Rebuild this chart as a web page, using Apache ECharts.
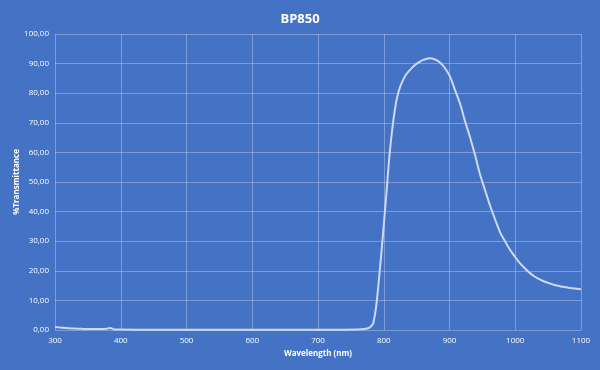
<!DOCTYPE html>
<html><head><meta charset="utf-8">
<script src="https://cdn.jsdelivr.net/npm/echarts@6/dist/echarts.min.js"></script>
<style>html,body{margin:0;padding:0;background:#4472C4;}#c{width:600px;height:370px;}</style>
</head><body><div id="c"></div>
<script>
var wavelengths = [300,310,320,330,340,350,360,370,378,384,390,400,450,500,550,600,650,700,740,760,770,776,780,784,789,794,799,804,809,814,819,823,827,833,840,848,855,862,870,878,886,893,901,908,916,923,931,939,946,954,962,970,977,985,992,1000,1007,1015,1022,1030,1038,1045,1053,1060,1068,1075,1083,1090,1100];
var transmittance = [1.0,0.8,0.6,0.5,0.4,0.3,0.3,0.3,0.4,0.7,0.2,0.15,0.1,0.1,0.1,0.1,0.1,0.1,0.1,0.15,0.3,0.6,1.1,2.3,9,20.3,32.7,46,59.7,69.8,77.2,80.8,83.3,86,87.9,89.6,90.7,91.4,91.8,91.4,90.3,88.5,85.5,81.3,76.5,71,65.3,59,52.9,47.3,41.8,37,33.0,29.8,27.1,24.6,22.6,20.8,19.3,18.0,17.0,16.3,15.7,15.2,14.8,14.5,14.2,14,13.8];
var yTicks = [0,10,20,30,40,50,60,70,80,90,100];
var points = wavelengths.map(function(w,i){return [w, transmittance[i]];});
var chart = echarts.init(document.getElementById('c'));
var ff = '"Open Sans", "Liberation Sans", sans-serif';
chart.setOption({
  backgroundColor: '#4472C4',
  animation: false,
  title: {text: 'BP850', left: 'center', top: 8, textStyle: {color: '#ffffff', fontSize: 13, fontWeight: 'bold', fontFamily: ff}},
  grid: {left: 55, right: 19, top: 34, bottom: 40, outerBoundsMode: 'none', containLabel: false},
  xAxis: {type: 'value', min: 300, max: 1100, interval: 100,
    name: 'Wavelength (nm)', nameLocation: 'middle', nameGap: 17,
    nameTextStyle: {color: '#ffffff', fontSize: 8, fontWeight: 'bold', fontFamily: ff},
    axisLine: {show: false}, axisTick: {show: false},
    axisLabel: {color: '#ffffff', fontSize: 8, fontFamily: ff, margin: 7,
      formatter: function(v){return String(v);}},
    splitLine: {show: true, lineStyle: {color: 'rgba(255,255,255,0.3)', width: 1}}},
  yAxis: {type: 'value', min: 0, max: 100, interval: 10,
    name: '%Transmittance', nameLocation: 'middle', nameGap: 34, nameMoveOverlap: false,
    nameTextStyle: {color: '#ffffff', fontSize: 8, fontWeight: 'bold', fontFamily: ff},
    axisLine: {show: false}, axisTick: {show: false},
    axisLabel: {color: '#ffffff', fontSize: 8, fontFamily: ff, margin: 6,
      formatter: function(v){return v.toFixed(2).replace('.', ',');}},
    splitLine: {show: true, lineStyle: {color: 'rgba(255,255,255,0.3)', width: 1}}},
  series: [{type: 'line', data: points, showSymbol: false, smooth: 0.3,
    lineStyle: {color: '#cdd9f2', width: 2}}]
});
</script></body></html>
